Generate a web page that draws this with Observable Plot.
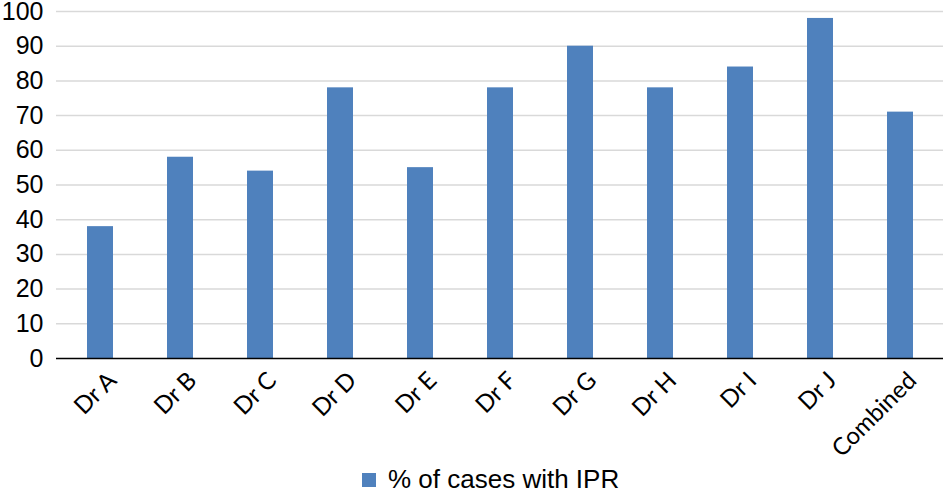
<!DOCTYPE html>
<html>
<head>
<meta charset="utf-8">
<script src="https://cdn.jsdelivr.net/npm/d3@7"></script>
<script src="https://cdn.jsdelivr.net/npm/@observablehq/plot@0.6"></script>
<style>
  body { margin: 0; background: #fff; }
  #legend { display: flex; align-items: center; height: 31px; padding-left: 362px; padding-top: 2px;
            font-family: "Liberation Sans", Arial, sans-serif; font-size: 26px; color: #000; }
  #legend .sw { width: 14px; height: 14px; background: #4F81BD; margin-right: 12px; }
</style>
</head>
<body>
<div id="chart"></div>
<div id="legend"><span class="sw"></span><span>% of cases with IPR</span></div>
<script>
const categories = ["Dr A", "Dr B", "Dr C", "Dr D", "Dr E", "Dr F", "Dr G", "Dr H", "Dr I", "Dr J", "Combined"];
const values = [38, 58, 54, 78, 55, 78, 90, 78, 84, 98, 71];
const yTicks = [0, 10, 20, 30, 40, 50, 60, 70, 80, 90, 100];
const seriesName = "% of cases with IPR";

const data = categories.map((c, i) => ({category: c, value: values[i]}));

const chart = Plot.plot({
  width: 944,
  height: 462,
  marginTop: 11,
  marginBottom: 104,
  marginLeft: 56,
  marginRight: 1,
  style: {background: "#fff", color: "#000"},
  x: {type: "band", domain: categories, paddingInner: 0.68, paddingOuter: 0.34, label: null},
  y: {domain: [0, 100], label: null},
  marks: [
    Plot.ruleY(yTicks.filter(d => d > 0), {stroke: "#d9d9d9", strokeWidth: 1.5}),
    Plot.barY(data, {x: "category", y: "value", fill: "#4F81BD"}),
    Plot.ruleY([0], {stroke: "#000", strokeWidth: 1.5}),
    Plot.axisY({ticks: yTicks, tickSize: 0, tickPadding: 13, fontSize: 25, fontFamily: "Liberation Sans, Arial, sans-serif", label: null}),
    Plot.axisX({tickSize: 0, tickPadding: 18, dx: 12, tickRotate: -45, fontSize: 24, fontFamily: "Lato, sans-serif", label: null})
  ]
});
document.getElementById("chart").appendChild(chart);
</script>
</body>
</html>
